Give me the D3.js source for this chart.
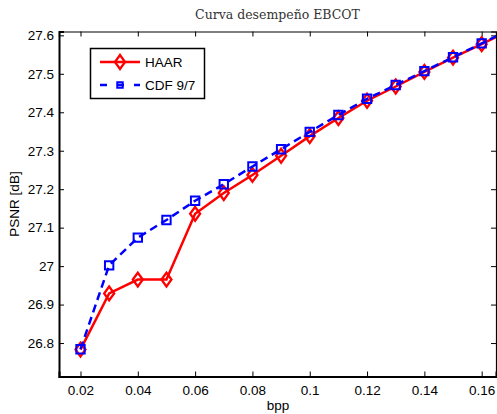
<!DOCTYPE html>
<html>
<head>
<meta charset="utf-8">
<script src="https://cdn.jsdelivr.net/npm/d3@7"></script>
<style>
body { margin: 0; background: #fff; }
svg { display: block; }
</style>
</head>
<body>
<div id="chart"></div>
<script>
// bit rate (bpp), last point lies past the right edge and is clipped
var bpp = [0.02, 0.03, 0.04, 0.05, 0.06, 0.07, 0.08, 0.09, 0.10, 0.11, 0.12, 0.13, 0.14, 0.15, 0.16, 0.17];
var haar = [26.783, 26.929, 26.965, 26.965, 27.136, 27.190, 27.237, 27.287, 27.338, 27.385, 27.430, 27.467, 27.505, 27.542, 27.577, 27.614];
var cdf97 = [26.784, 27.002, 27.074, 27.120, 27.170, 27.213, 27.259, 27.304, 27.349, 27.393, 27.435, 27.471, 27.507, 27.543, 27.579, 27.616];
var xTicks = [0.02, 0.04, 0.06, 0.08, 0.1, 0.12, 0.14, 0.16];
var yTicks = [26.8, 26.9, 27, 27.1, 27.2, 27.3, 27.4, 27.5, 27.6];

var width = 497, height = 414;
var m_left = 59, m_right = 496, m_top = 31.5, m_bottom = 376.5;

var svg = d3.select('#chart')
	.append('svg')
	.attr('width', width)
	.attr('height', height);

var x = d3.scaleLinear().domain([0.0125, 0.165]).range([m_left, m_right]);
var y = d3.scaleLinear().domain([26.713, 27.61]).range([m_bottom, m_top]);

svg.append('clipPath').attr('id', 'plotClip')
	.append('rect')
	.attr('x', m_left).attr('y', m_top)
	.attr('width', m_right - m_left).attr('height', m_bottom - m_top);

var fmt = function(d) { return String(+d.toFixed(2)); };
var tickFont = '"Liberation Sans", Arial, sans-serif';

// bottom / top axes
svg.append('g')
	.attr('transform', 'translate(0,' + m_bottom + ')')
	.call(d3.axisBottom(x).tickValues(xTicks).tickSize(-5).tickPadding(9).tickFormat(fmt))
	.call(function(g) {
		g.select('.domain').attr('stroke-width', 2);
		g.selectAll('text').style('font-family', tickFont).style('font-size', '13.5px').attr('fill', '#000');
	});
svg.append('g')
	.attr('transform', 'translate(0,' + m_top + ')')
	.call(d3.axisTop(x).tickValues(xTicks).tickSize(-5).tickFormat(''))
	.call(function(g) { g.select('.domain').attr('stroke-width', 1.2); });

// left / right axes
svg.append('g')
	.attr('transform', 'translate(' + m_left + ',0)')
	.call(d3.axisLeft(y).tickValues(yTicks).tickSize(-5).tickPadding(5).tickFormat(function(d) { return String(+d.toFixed(1)); }))
	.call(function(g) {
		g.select('.domain').attr('stroke-width', 2);
		g.selectAll('text').style('font-family', tickFont).style('font-size', '13.5px').attr('fill', '#000');
	});
svg.append('g')
	.attr('transform', 'translate(' + m_right + ',0)')
	.call(d3.axisRight(y).tickValues(yTicks).tickSize(-5).tickFormat(''))
	.call(function(g) { g.select('.domain').attr('stroke-width', 1.2); });

var series = [
	{ name: 'HAAR', values: haar, color: '#ff0000', dash: null, symbol: d3.symbolDiamond, size: 55 },
	{ name: 'CDF 9/7', values: cdf97, color: '#0000ff', dash: '8,5', symbol: d3.symbolSquare, size: 70 }
];

var plot = svg.append('g').attr('clip-path', 'url(#plotClip)');

series.forEach(function(s) {
	var pts = bpp.map(function(b, i) { return [b, s.values[i]]; });
	var line = d3.line()
		.x(function(d) { return x(d[0]); })
		.y(function(d) { return y(d[1]); });

	plot.append('path')
		.datum(pts)
		.attr('d', line)
		.attr('fill', 'none')
		.attr('stroke', s.color)
		.attr('stroke-width', 2.5)
		.attr('stroke-dasharray', s.dash);

	plot.selectAll(null)
		.data(pts)
		.enter()
		.append('path')
		.attr('d', d3.symbol().type(s.symbol).size(s.size))
		.attr('transform', function(d) {
			return 'translate(' + x(d[0]) + ',' + y(d[1]) + ')' + (s.symbol === d3.symbolDiamond ? ' scale(1.25,1)' : '');
		})
		.attr('fill', 'none')
		.attr('stroke', s.color)
		.attr('stroke-width', 2);
});

// legend
var lg = svg.append('g');
lg.append('rect')
	.attr('x', 90.5).attr('y', 48.5)
	.attr('width', 114).attr('height', 50)
	.attr('fill', '#fff')
	.attr('stroke', '#000')
	.attr('stroke-width', 1.5);

series.forEach(function(s, i) {
	var ly = 62 + i * 23;
	lg.append('line')
		.attr('x1', 100).attr('x2', 140)
		.attr('y1', ly).attr('y2', ly)
		.attr('stroke', s.color)
		.attr('stroke-width', 2.5)
		.attr('stroke-dasharray', s.dash ? '7,10' : null);
	lg.append('path')
		.attr('d', d3.symbol().type(s.symbol).size(s.symbol === d3.symbolSquare ? 30 : s.size))
		.attr('transform', 'translate(120,' + ly + ')' + (s.symbol === d3.symbolDiamond ? ' scale(1.25,1)' : ''))
		.attr('fill', 'none')
		.attr('stroke', s.color)
		.attr('stroke-width', 2);
	lg.append('text')
		.attr('x', 145).attr('y', ly)
		.attr('dy', '0.35em')
		.style('font-family', tickFont)
		.style('font-size', '13.5px')
		.text(s.name);
});

// title and axis labels
svg.append('text')
	.attr('x', (m_left + m_right) / 2).attr('y', 19)
	.attr('text-anchor', 'middle')
	.style('font-family', '"DejaVu Serif", "Liberation Serif", serif')
	.style('font-size', '12.5px')
	.attr('fill', '#333')
	.text('Curva desempeño EBCOT');

svg.append('text')
	.attr('x', 278).attr('y', 410)
	.attr('text-anchor', 'middle')
	.style('font-family', tickFont)
	.style('font-size', '13.5px')
	.text('bpp');

svg.append('text')
	.attr('transform', 'translate(19,' + (m_top + m_bottom) / 2 + ') rotate(-90)')
	.attr('text-anchor', 'middle')
	.style('font-family', tickFont)
	.style('font-size', '13.5px')
	.text('PSNR [dB]');
</script>
</body>
</html>
